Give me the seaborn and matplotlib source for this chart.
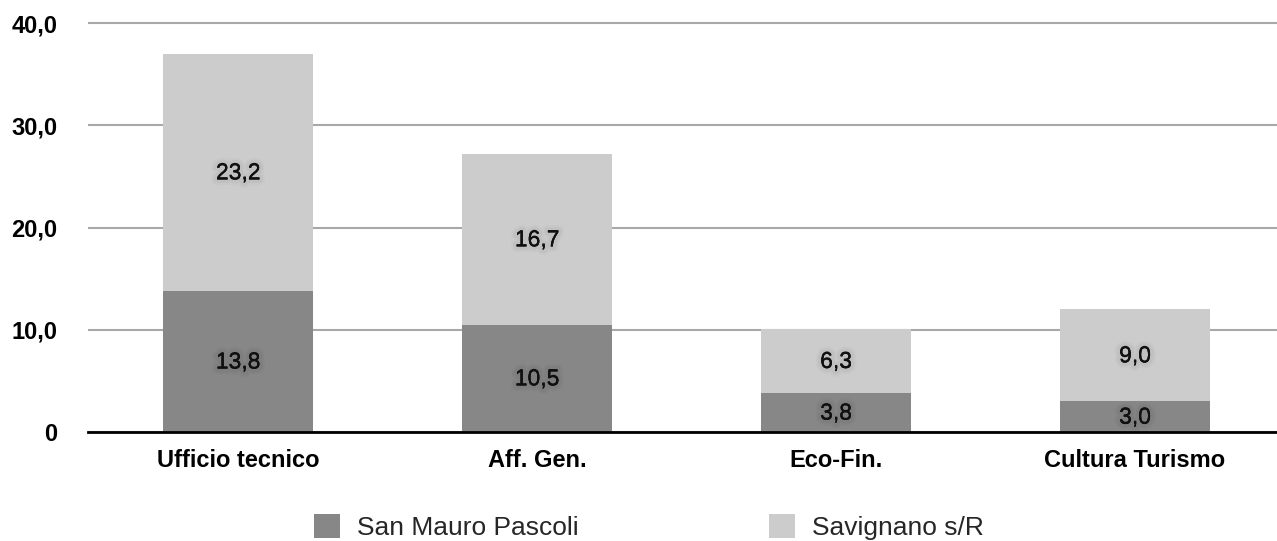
import matplotlib
matplotlib.use("Agg")
import matplotlib.pyplot as plt
import matplotlib.patheffects as pe
from matplotlib.patches import Patch
from matplotlib.ticker import FuncFormatter, MultipleLocator
import seaborn as sns
import pandas as pd

# Data
categories = ["Ufficio tecnico", "Aff. Gen.", "Eco-Fin.", "Cultura Turismo"]
san_mauro = [13.8, 10.5, 3.8, 3.0]
savignano = [23.2, 16.7, 6.3, 9.0]
series_names = ["San Mauro Pascoli", "Savignano s/R"]

dark = "#878787"
light = "#cbcccb"

sns.set_theme(style="white")
plt.rcParams["font.family"] = ["Liberation Sans", "DejaVu Sans"]

totals = [a + b for a, b in zip(san_mauro, savignano)]
df = pd.DataFrame({"cat": categories, "sm": san_mauro, "sv": savignano, "tot": totals})

fig = plt.figure(figsize=(12.77, 5.41), dpi=100)
ax = fig.add_axes([88 / 1277, 1 - 432 / 541, 1 - 88 / 1277, 414 / 541])

# Stacked bars: total (light) underneath, San Mauro (dark) drawn over its base
sns.barplot(data=df, x="cat", y="tot", color=light, width=0.5, saturation=1,
            linewidth=0, ax=ax, zorder=2)
sns.barplot(data=df, x="cat", y="sm", color=dark, width=0.5, saturation=1,
            linewidth=0, ax=ax, zorder=3)

def fmt(v):
    return f"{v:.1f}".replace(".", ",")

# faint halo behind the value labels
halo = [
    pe.Stroke(linewidth=8, foreground=(0, 0, 0, 0.025), offset=(0, -0.5)),
    pe.Stroke(linewidth=5, foreground=(0, 0, 0, 0.03), offset=(0, -0.5)),
    pe.Normal(),
]

for i, (a, b) in enumerate(zip(san_mauro, savignano)):
    for y, v in ((a / 2, a), (a + b / 2, b)):
        ax.text(i, y, fmt(v), ha="center", va="center", fontsize=16.5,
                color="#111111", zorder=5, path_effects=halo)

ax.set_ylim(0, 40.5)
ax.set_xlim(-0.502, 3.475)
ax.yaxis.set_major_locator(MultipleLocator(10))
ax.yaxis.set_major_formatter(FuncFormatter(lambda v, p: "0" if v == 0 else fmt(v)))
ax.grid(axis="y", color="#a8a8a8", linewidth=1.5, zorder=0)
ax.grid(axis="x", visible=False)
ax.set_axisbelow(True)
for s in ["top", "right", "left"]:
    ax.spines[s].set_visible(False)
ax.spines["bottom"].set_color("black")
ax.spines["bottom"].set_linewidth(2)
ax.spines["bottom"].set_zorder(6)
ax.set_xlabel("")
ax.set_ylabel("")
ax.tick_params(axis="both", length=0)
ax.tick_params(axis="x", pad=12)
ax.tick_params(axis="y", pad=22)
for lbl in ax.get_xticklabels() + ax.get_yticklabels():
    lbl.set_fontweight("bold")
    lbl.set_fontsize(17)
    lbl.set_color("black")

handles = [Patch(facecolor=dark, edgecolor="none"), Patch(facecolor=light, edgecolor="none")]
fig.legend(handles, series_names, loc="center", bbox_to_anchor=(649 / 1277, 1 - 527 / 541), ncol=2,
           frameon=False, fontsize=19, handlelength=1.0, handleheight=1.0,
           handletextpad=0.65, columnspacing=7.2, borderpad=0, borderaxespad=0)

fig.savefig("out.png", dpi=100)
